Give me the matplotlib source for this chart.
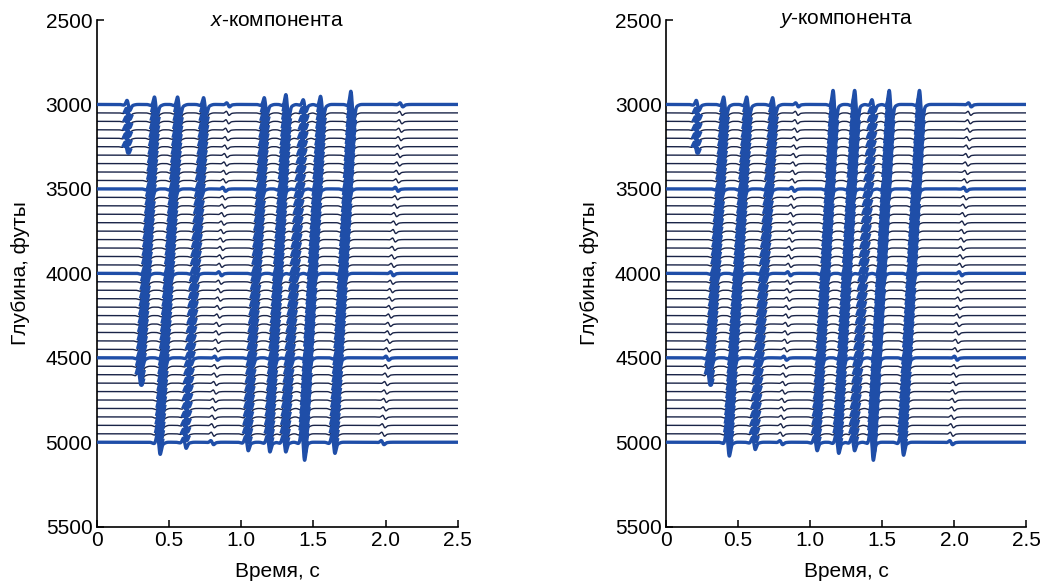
import numpy as np
import matplotlib
matplotlib.use('Agg')
import matplotlib.pyplot as plt

plt.rcParams['font.family'] = ['Liberation Sans', 'DejaVu Sans']
plt.rcParams['mathtext.fontset'] = 'custom'
plt.rcParams['mathtext.it'] = 'Liberation Sans:italic'
plt.rcParams['mathtext.rm'] = 'Liberation Sans'

# receiver depths, ft
depths = np.arange(3000, 5001, 50)

# events: arrival time at the top and bottom depth of each event
event_z_top = [3000, 3000, 3000, 3000, 3000, 3000, 3000, 3000, 3000, 3000, 3000]
event_z_bot = [3250, 4600, 5000, 5000, 5000, 5000, 5000, 5000, 5000, 5000, 5000]
event_t_top = [0.22, 0.41, 0.57, 0.75, 0.91, 1.17, 1.32, 1.44, 1.56, 1.77, 2.11]
event_t_bot = [0.21, 0.30, 0.43, 0.61, 0.80, 1.04, 1.19, 1.30, 1.43, 1.64, 1.98]

# spike heights (ft) at top / bottom of each event, per component
x_amp_top = [30, 55, 55, 50, 12, 50, 70, 35, 60, 90, 12]
x_amp_bot = [30, 50, 60, 30, 12, 42, 48, 48, 95, 55, 12]
y_amp_top = [30, 55, 55, 50, 12, 95, 95, 35, 95, 95, 12]
y_amp_bot = [30, 50, 70, 36, 12, 42, 55, 42, 95, 65, 12]

titles = ['$x$-компонента', '$y$-компонента']
xticks = [0, 0.5, 1.0, 1.5, 2.0, 2.5]
xticklabels = ['0', '0.5', '1.0', '1.5', '2.0', '2.5']
yticks = [2500, 3000, 3500, 4000, 4500, 5000, 5500]

BLUE = '#1f4ea8'
DARK = '#1a2448'

t = np.arange(0, 2.5001, 0.0005)
S = 0.010


def wavelet(tau, amp, s=S):
    # antisymmetric spike sitting on a flat dip (the step seen either side of each arrival)
    spike = amp * (tau / s) * np.exp(0.5 - 0.5 * (tau / s) ** 2)
    ped = 0.2 * min(amp, 60) * np.exp(-(tau / 0.045) ** 4)
    return -spike - ped


def make_traces(amp_top, amp_bot):
    traces, marks = [], []
    for z in depths:
        tr = np.zeros_like(t)
        hot = np.zeros(t.shape, dtype=bool)
        for i in range(len(event_t_top)):
            if z < event_z_top[i] or z > event_z_bot[i]:
                continue
            f = (z - event_z_top[i]) / (event_z_bot[i] - event_z_top[i])
            t0 = event_t_top[i] + f * (event_t_bot[i] - event_t_top[i])
            a = amp_top[i] + f * (amp_bot[i] - amp_top[i])
            tr += wavelet(t - t0, a)
            if a > 20:
                hot |= np.abs(t - t0) < 2.0 * S
        traces.append(tr)
        marks.append(hot)
    return traces, marks


fig = plt.figure(figsize=(10.46, 5.85), dpi=100)
ax_pos = [[0.0924, 0.0997, 0.3452, 0.8661], [0.6367, 0.0997, 0.3442, 0.8661]]
amps = [(x_amp_top, x_amp_bot), (y_amp_top, y_amp_bot)]

for k in range(2):
    ax = fig.add_axes(ax_pos[k])
    traces, marks = make_traces(*amps[k])
    for z, tr, hot in zip(depths, traces, marks):
        yv = z - tr
        if z % 500 == 0:
            ax.plot(t, yv, color=BLUE, lw=2.4, zorder=3)
        else:
            ax.plot(t, yv, color=DARK, lw=1.0, zorder=2)
            blue = np.ma.masked_where(~hot, yv)
            ax.plot(t, blue, color=BLUE, lw=3.2, zorder=2.5)

    ax.set_xlim(0, 2.5)
    ax.set_ylim(5500, 2500)
    ax.set_xticks(xticks)
    ax.set_xticklabels(xticklabels)
    ax.set_yticks(yticks)
    ax.tick_params(direction='in', length=5, width=1.1, labelsize=15, pad=3)
    for sp in ['top', 'right']:
        ax.spines[sp].set_visible(False)
    for sp in ['left', 'bottom']:
        ax.spines[sp].set_linewidth(1.2)
    ax.set_xlabel('Время, с', fontsize=15)
    ax.xaxis.set_label_coords(0.5, -0.089)
    ax.xaxis.label.set_va('center')
    ax.set_ylabel('Глубина, футы', fontsize=15)
    ax.yaxis.set_label_coords(-0.212, 0.5)
    ax.yaxis.label.set_va('center')
    ax.text(0.5, 1.0, titles[k], transform=ax.transAxes, ha='center', va='center', fontsize=15)

fig.savefig('out.png', dpi=100)
